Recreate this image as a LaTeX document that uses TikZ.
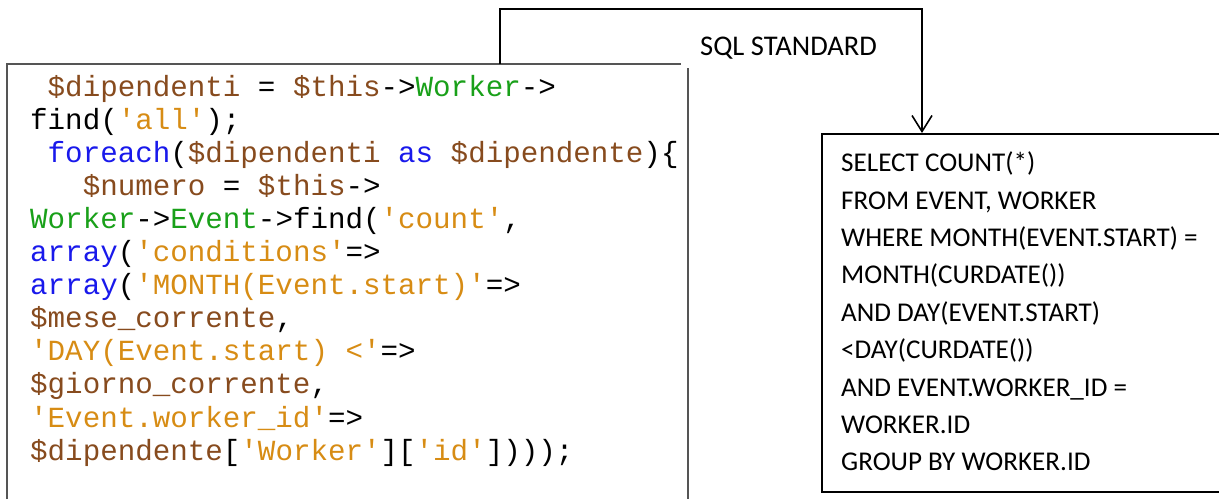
\documentclass[tikz,border=0pt]{standalone}
\usepackage{fontspec}
\usetikzlibrary{arrows.meta}
\newfontfamily\codefont{Liberation Mono}[Ligatures=ResetAll]
\newfontfamily\sqlfont{Carlito}
\definecolor{cbrown}{RGB}{135,75,30}
\definecolor{cgreen}{RGB}{25,160,25}
\definecolor{cblue}{RGB}{25,25,235}
\definecolor{corange}{RGB}{215,140,20}
\definecolor{boxgray}{RGB}{85,85,85}
\newcommand\qq{\char"27\relax}
\newcommand\vb[1]{\textcolor{cbrown}{#1}}
\newcommand\cg[1]{\textcolor{cgreen}{#1}}
\newcommand\kb[1]{\textcolor{cblue}{#1}}
\newcommand\so[1]{\textcolor{corange}{#1}}
\tikzset{
  codeline/.style={anchor=base west, inner sep=0pt, font=\codefont\fontsize{29.2}{33}\selectfont},
  sqlline/.style={anchor=base west, inner sep=0pt, font=\sqlfont\fontsize{27.1}{37}\selectfont},
  lblstyle/.style={anchor=base west, inner sep=0pt, font=\sqlfont\fontsize{28.5}{37}\selectfont},
  leftbox/.style={draw=boxgray, line width=2pt},
  rightbox/.style={draw=black, line width=1.8pt},
  conn/.style={draw=black, line width=1.8pt},
}
\begin{document}
\begin{tikzpicture}[x=1pt,y=-1pt]
\useasboundingbox (0,0) rectangle (1219,499);
% left code box (open at bottom)
\draw[leftbox] (7,499) -- (7,64) -- (681,64);
\draw[leftbox] (688,68) -- (688,499);
% right SQL box (open at right)
\draw[rightbox] (1219,134) -- (822,134) -- (822,492) -- (1219,492);
% connector
\coordinate (c1) at (500,64);
\coordinate (turn) at (700,9);
\coordinate (c2) at (922,133);
\draw[conn, -{Straight Barb[length=16pt,width=20pt,line width=1.6pt]}] (c1) |- (turn) -| (c2);
\node[lblstyle] (lbl) at (700,55) {SQL STANDARD};
% code lines
\node[codeline] (l1) at (30,96) {\ \vb{\$dipendenti} = \vb{\$this}->\cg{Worker}->};
\node[codeline] (l2) at (30,129.1) {find(\so{\qq all\qq});};
\node[codeline] (l3) at (30,162.2) {\ \kb{foreach}(\vb{\$dipendenti} \kb{as} \vb{\$dipendente})\{};
\node[codeline] (l4) at (30,195.3) {\ \ \ \vb{\$numero} = \vb{\$this}->};
\node[codeline] (l5) at (30,228.4) {\cg{Worker}->\cg{Event}->find(\so{\qq count\qq},};
\node[codeline] (l6) at (30,261.5) {\kb{array}(\so{\qq conditions\qq}=>};
\node[codeline] (l7) at (30,294.6) {\kb{array}(\so{\qq MONTH(Event.start)\qq}=>};
\node[codeline] (l8) at (30,327.7) {\vb{\$mese\_corrente},};
\node[codeline] (l9) at (30,360.8) {\so{\qq DAY(Event.start) <\qq}=>};
\node[codeline] (l10) at (30,393.9) {\vb{\$giorno\_corrente},};
\node[codeline] (l11) at (30,427.0) {\so{\qq Event.worker\_id\qq}=>};
\node[codeline] (l12) at (30,460.1) {\vb{\$dipendente}[\so{\qq Worker\qq}][\so{\qq id\qq}])));};
% SQL lines
\node[sqlline] (s1) at (841,171.7) {SELECT COUNT(*)};
\node[sqlline] (s2) at (841,209.1) {FROM EVENT, WORKER};
\node[sqlline] (s3) at (841,246.5) {WHERE MONTH(EVENT.START) =};
\node[sqlline] (s4) at (841,283.9) {MONTH(CURDATE())};
\node[sqlline] (s5) at (841,321.3) {AND DAY(EVENT.START)};
\node[sqlline] (s6) at (841,358.7) {<DAY(CURDATE())};
\node[sqlline] (s7) at (841,396.1) {AND EVENT.WORKER\_ID =};
\node[sqlline] (s8) at (841,433.5) {WORKER.ID};
\node[sqlline] (s9) at (841,470.9) {GROUP BY WORKER.ID};
\end{tikzpicture}
\end{document}
